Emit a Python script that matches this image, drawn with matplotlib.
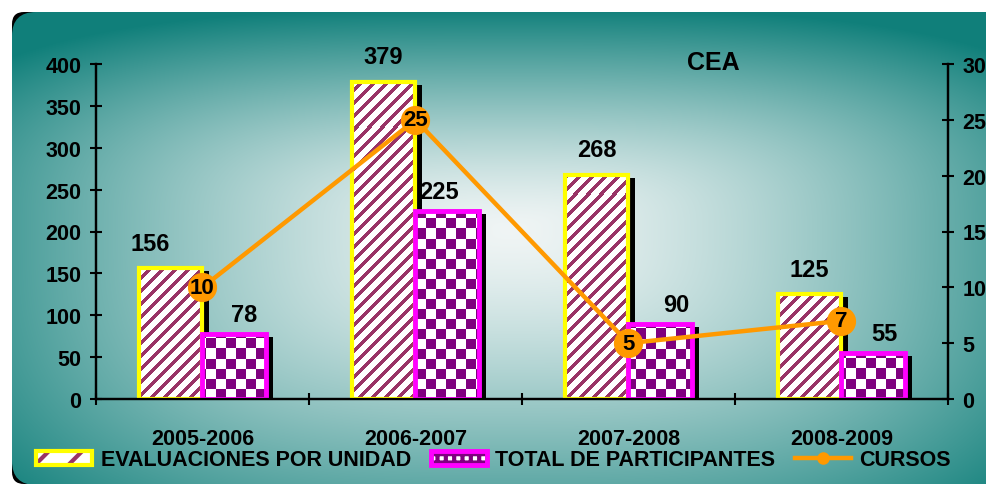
import numpy as np
import matplotlib
matplotlib.use("Agg")
import matplotlib.pyplot as plt
import matplotlib.patheffects as pe
from matplotlib.patches import FancyBboxPatch, Patch
from matplotlib.lines import Line2D
from matplotlib.legend_handler import HandlerTuple

# data
years = ["2005-2006", "2006-2007", "2007-2008", "2008-2009"]
evaluaciones = [156, 379, 268, 125]
participantes = [78, 225, 90, 55]
cursos = [10, 25, 5, 7]

# small label nudges in pixels (layout only)
nudge_eval = [-20, 0, 0, 0]
nudge_part = [10, -9, 16, 11]

plt.rcParams['font.family'] = ['Liberation Sans', 'DejaVu Sans']
plt.rcParams['font.weight'] = 'bold'
plt.rcParams['hatch.linewidth'] = 3.0

maroon = np.array([0.60, 0.20, 0.40])
purple = np.array([0.50, 0.0, 0.50])
orange = '#FF9900'

W, H = 987, 485
fig = plt.figure(figsize=(W / 100, H / 100), dpi=100)

# background panel with gradient from the centre
bg = fig.add_axes([0, 0, 1, 1], zorder=-10)
bg.set_xlim(0, W)
bg.set_ylim(H, 0)
bg.axis('off')
back = FancyBboxPatch((12, 13), 1000, 472, boxstyle='round,pad=0,rounding_size=12',
                      fc='black', ec='none', zorder=0)
bg.add_patch(back)
panel = FancyBboxPatch((12, 13), 1000, 473, boxstyle='round,pad=0,rounding_size=24',
                       transform=bg.transData)
yy, xx = np.mgrid[0:H, 0:W] + 0.5
cx, cy = 510, 230
ay = np.where(yy < cy, 220, 350)
dx = np.abs(xx - cx) / 620
dy = np.abs(yy - cy) / ay
r = (dx ** 3 + dy ** 3) ** (1 / 3)
t = np.clip(r, 0, 1) ** 1.4
c0 = np.array([0.94, 0.96, 0.96])
c1 = np.array([0.063, 0.50, 0.48])
grad = c0 * (1 - t[..., None]) + c1 * t[..., None]
im = bg.imshow(grad, extent=(0, W, H, 0), aspect='auto', interpolation='bilinear', zorder=1)
im.set_clip_path(panel)
bg.set_xlim(0, W)
bg.set_ylim(H, 0)

# main axes
L, R, T, B = 96, 948, 65, 400
ax = fig.add_axes([L / W, 1 - B / H, (R - L) / W, (B - T) / H])
ax.set_facecolor('none')
ax2 = ax.twinx()
ax2.set_facecolor('none')

x = np.arange(len(years))
w = 0.30

# textures in axes pixel space
AW, AH = R - L, B - T
ty, tx = np.mgrid[0:AH, 0:AW]
stripes = np.ones((AH, AW, 3))
stripes[((tx - ty) % 13) < 5] = maroon
checks = np.ones((AH, AW, 3))
checks[((tx // 10) + (ty // 10)) % 2 == 0] = purple

shadow = [pe.SimplePatchShadow(offset=(4.5, -2.2), shadow_rgbFace='black', alpha=1),
          pe.Normal()]

base1 = ax.bar(x - w / 2, evaluaciones, w, color='white', lw=0, zorder=2,
               path_effects=shadow)
for b in base1:
    tex = ax.imshow(stripes, extent=(0, 1, 0, 1), transform=ax.transAxes, origin='lower',
                    aspect='auto', interpolation='nearest', zorder=2.5)
    tex.set_clip_path(b)
ax.bar(x - w / 2, evaluaciones, w, fill=False, edgecolor='#FFFF00', lw=3, zorder=3)

base2 = ax.bar(x + w / 2, participantes, w, color='white', lw=0, zorder=4,
               path_effects=shadow)
for b in base2:
    tex = ax.imshow(checks, extent=(0, 1, 0, 1), transform=ax.transAxes, origin='lower',
                    aspect='auto', interpolation='nearest', zorder=4.5)
    tex.set_clip_path(b)
ax.bar(x + w / 2, participantes, w, fill=False, edgecolor='#FF00FF', lw=3.5, zorder=5)

for xi, v, dx_ in zip(x, evaluaciones, nudge_eval):
    ax.annotate(str(v), (xi - w / 2, v), xytext=(dx_ * 0.72, 18), textcoords='offset points',
                ha='center', va='center', fontsize=17, zorder=6)
for xi, v, dx_ in zip(x, participantes, nudge_part):
    ax.annotate(str(v), (xi + w / 2, v), xytext=(dx_ * 0.72, 14), textcoords='offset points',
                ha='center', va='center', fontsize=17, zorder=6)

ax.set_xlim(-0.5, len(years) - 0.5)
ax.set_ylim(0, 400)
ax.set_yticks(np.arange(0, 401, 50))
ax.set_xticks(np.arange(-0.5, len(years), 1.0))
ax.set_xticklabels([])
ax.set_xticks(x, minor=True)
ax.set_xticklabels(years, minor=True)
ax.tick_params(axis='x', which='minor', length=0, pad=21, labelsize=15.5)
ax.tick_params(axis='x', which='major', direction='inout', length=9, width=1.5)
ax.tick_params(axis='y', direction='inout', length=9, width=1.5, labelsize=15.5, pad=6)

# line on secondary axis
ax2.plot(x, cursos, color=orange, lw=3.2, marker='o', ms=20, mec=orange, zorder=6)
for xi, c in zip(x, cursos):
    ax2.text(xi, c, str(c), ha='center', va='center', fontsize=16, zorder=7)
ax2.set_ylim(0, 30)
ax2.set_yticks(np.arange(0, 31, 5))
ax2.tick_params(axis='y', direction='inout', length=9, width=1.5, labelsize=15.5, pad=6)

for a in (ax, ax2):
    a.spines['top'].set_visible(False)
    for s in ('left', 'right', 'bottom'):
        a.spines[s].set_linewidth(1.6)

ax.text(0.724, 1.005, 'CEA', transform=ax.transAxes, ha='center', va='center', fontsize=18)

# legend
h1 = (Patch(facecolor='white', edgecolor=maroon, hatch='/', lw=0),
      Patch(facecolor='none', edgecolor='#FFFF00', lw=3))
h2 = (Patch(facecolor='white', edgecolor=purple, hatch='++', lw=0),
      Patch(facecolor='none', edgecolor='#FF00FF', lw=3.5))
h3 = Line2D([], [], color=orange, lw=3.2, marker='o', ms=8)
fig.legend([h1, h2, h3], ['EVALUACIONES POR UNIDAD', 'TOTAL DE PARTICIPANTES', 'CURSOS'],
           handler_map={tuple: HandlerTuple(ndivide=1)},
           loc='center', bbox_to_anchor=(0.5, 1 - 461 / H), ncol=3, frameon=False,
           prop={'weight': 'bold', 'size': 15.5}, handlelength=2.6, handleheight=0.65,
           handletextpad=0.4, columnspacing=0.9, borderpad=0)

fig.savefig('out.png', dpi=100)
